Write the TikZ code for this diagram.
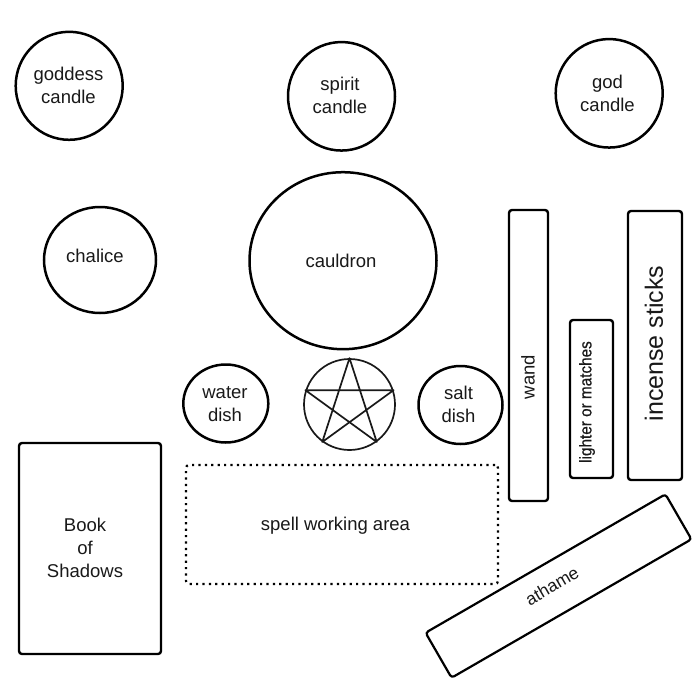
\documentclass[tikz,border=0pt]{standalone}
\usepackage{fontspec}
\usetikzlibrary{shapes.geometric}
\setmainfont{Liberation Sans}
\begin{document}
\begin{tikzpicture}[x=1pt,y=-1pt,
  lbl/.style={font=\fontsize{18.5}{23}\selectfont,align=center,text=black!90,inner sep=0pt},
  disc/.style n args={2}{draw=black,line width=2.5pt,ellipse,minimum width=#1,minimum height=#2,inner sep=0pt,lbl},
  box/.style={draw=black,line width=2.4pt,rounded corners=3pt,lbl,inner sep=0pt},
  thinline/.style={draw=black!90,line width=1.7pt,line join=round}]
\useasboundingbox[fill=white] (0,0) rectangle (696,696);
\node[disc={107pt}{108pt}] (goddess) at (69.2,85.8) {};
\node[lbl] (goddesst) at (68.5,85) {goddess\\candle};
\node[disc={107pt}{108.5pt}] (spirit) at (341.5,96.3) {};
\node[lbl] (spiritt) at (340,95) {spirit\\candle};
\node[disc={107pt}{108.5pt}] (god) at (609.2,93.3) {};
\node[lbl] (godt) at (607.5,93) {god\\candle};
\node[disc={112pt}{106pt}] (chalice) at (100,260) {};
\node[lbl] (chalicet) at (95,256) {chalice};
\node[disc={187pt}{177pt}] (cauldron) at (343,260.7) {};
\node[lbl] (cauldront) at (341,261) {cauldron};
\node[disc={85pt}{78pt}] (water) at (225.8,403.5) {};
\node[lbl] (watert) at (225,404) {water\\dish};
\node[disc={84pt}{78pt}] (salt) at (460.5,405) {};
\node[lbl] (saltt) at (458.5,404) {salt\\dish};
\node[box,minimum width=39pt,minimum height=291pt] (wand) at (528.5,355.5) {};
\node[lbl,rotate=90] (wandt) at (528,377) {wand};
\node[box,minimum width=43pt,minimum height=158pt] (lighter) at (591.5,399) {};
\node[lbl,rotate=90] (lightert) at (587,402) {\fontsize{17}{20}\selectfont\addfontfeature{FakeBold=0.6}\scalebox{.9}[1]{lighter or matches}};
\node[box,minimum width=54pt,minimum height=269pt] (incense) at (655,345.5) {};
\node[lbl,rotate=90] (incenset) at (654,343.5) {\fontsize{25}{30}\selectfont incense sticks};
\node[box,minimum width=142pt,minimum height=211pt] (book) at (90,548.5) {};
\node[lbl] (bookt) at (85,548) {Book\\of\\Shadows};
\node[draw=black,line width=2.2pt,dash pattern=on 2.2pt off 4.2pt,rounded corners=3pt,minimum width=312pt,minimum height=119pt,inner sep=0pt] (area) at (342,524.5) {};
\node[lbl] (areat) at (335.5,526) {spell working area};
\node[box,rotate=30,minimum width=277pt,minimum height=52pt,line width=2.2pt] (athame) at (558.5,586) {};
\node[lbl,rotate=30,font=\fontsize{17.5}{20}\selectfont] (athamet) at (552,586) {athame};
\node[draw=black!90,line width=1.7pt,circle,minimum size=91pt,inner sep=0pt] (penta) at (349.5,404.5) {};
\draw[thinline] (penta.90) -- (penta.-54) -- (penta.162) -- (penta.18) -- (penta.234) -- cycle;
\end{tikzpicture}
\end{document}
